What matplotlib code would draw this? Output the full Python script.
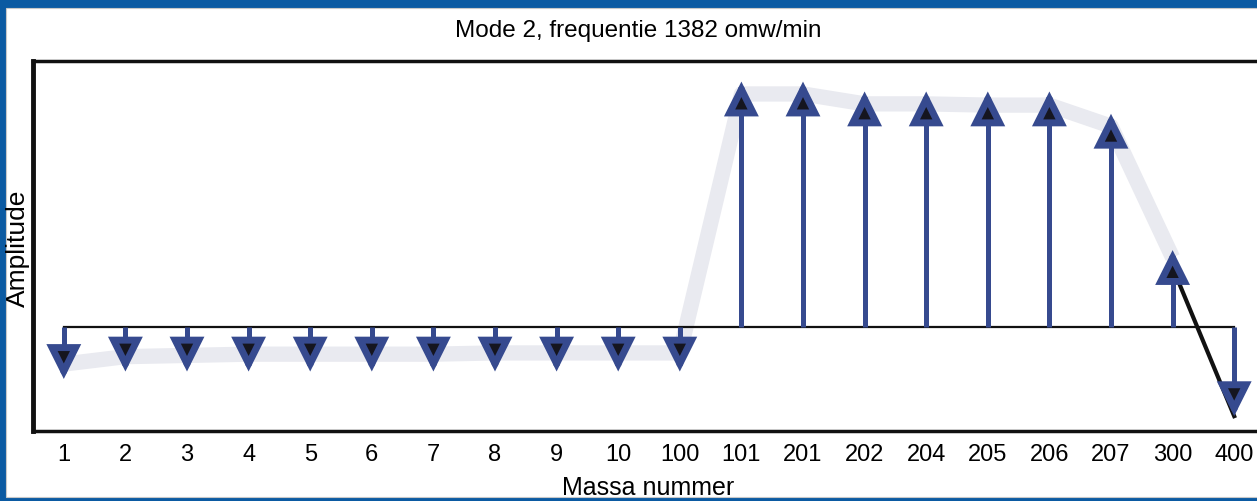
import numpy as np
import matplotlib.pyplot as plt
from matplotlib.patches import Rectangle

plt.rcParams['font.family'] = ['Liberation Sans', 'DejaVu Sans']

# massa nummers en amplitudes (pijlpunten)
massa = ['1', '2', '3', '4', '5', '6', '7', '8', '9', '10',
         '100', '101', '201', '202', '204', '205', '206', '207', '300', '400']
amplitude = [-0.21, -0.18, -0.18, -0.18, -0.18, -0.18, -0.18, -0.18, -0.18, -0.18,
             -0.18, 0.99, 0.99, 0.95, 0.95, 0.95, 0.95, 0.86, 0.31, -0.36]
# grijze modevorm-lijn (1 t/m 300)
vorm = [-0.15, -0.12, -0.115, -0.11, -0.11, -0.11, -0.11, -0.105, -0.105, -0.105,
        -0.105, 0.94, 0.94, 0.90, 0.90, 0.895, 0.895, 0.81, 0.28]

blauw = '#364a8f'
W, H = 1257, 502

fig = plt.figure(figsize=(W / 100, H / 100), dpi=100, facecolor='#0b5aa2')
fig.patches.append(Rectangle((6 / W, 4 / H), 1, 1 - 13 / H, transform=fig.transFigure,
                             facecolor='white', edgecolor='#c8c8c8', lw=0.8, zorder=-5))

# assen: links x=33, boven y=62, onder y=432; loopt rechts buiten beeld door
x = np.arange(len(massa))
amp = np.array(amplitude)
ax = fig.add_axes([33 / W, (H - 432) / H, (1265 - 33) / W, (432 - 62) / H])
ax.set_facecolor('white')
ax.set_xlim(-0.5, 19.5)
ax.set_ylim(-0.42, 1.073)

for s in ['left', 'top', 'bottom']:
    ax.spines[s].set_linewidth(2.5 if s != 'left' else 3.5)
    ax.spines[s].set_color('#111111')
ax.spines['right'].set_visible(False)

ax.plot(x[:len(vorm)], vorm, color='#e9eaf0', lw=11, solid_capstyle='butt', zorder=1)
ax.plot([x[0], x[-1]], [0, 0], color='#111111', lw=1.6, zorder=2)

# stelen (tot aan de pijlpunt)
ax.vlines(x, 0, amp - np.sign(amp) * 0.06, color=blauw, lw=3.6, zorder=3)
ax.plot([x[-2] + 0.05, x[-1]], [0.21, amplitude[-1]], color='#111111', lw=3, zorder=4)

# pijlpunten
for xi, a in zip(x, amplitude):
    ax.annotate('', xy=(xi, a), xytext=(xi, a - np.sign(a) * 0.1),
                arrowprops=dict(arrowstyle='-|>,head_length=1.0,head_width=0.5',
                                mutation_scale=17, lw=5, ec=blauw, fc='#15151f',
                                shrinkA=0, shrinkB=0, joinstyle='miter'),
                zorder=5)

ax.set_xticks(x)
ax.set_xticklabels(massa, fontsize=17)
ax.tick_params(axis='x', length=0, pad=9)
ax.set_yticks([])

fig.text(638 / W, 1 - 31 / H, 'Mode 2, frequentie 1382 omw/min', ha='center', va='center', fontsize=17.5)
fig.text(18 / W, 1 - 248 / H, 'Amplitude', rotation=90, ha='center', va='center', fontsize=19)
fig.text(648 / W, 1 - 488 / H, 'Massa nummer', ha='center', va='center', fontsize=18)

fig.savefig('out.png', dpi=100, facecolor=fig.get_facecolor())
